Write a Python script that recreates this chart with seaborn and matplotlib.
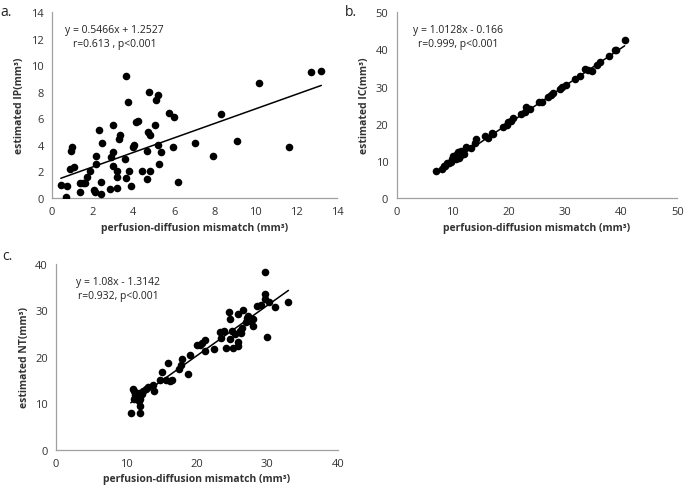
import numpy as np
import pandas as pd
import matplotlib
matplotlib.use("Agg")
import matplotlib.pyplot as plt
import seaborn as sns

# Panel a: perfusion-diffusion mismatch vs estimated IP
ip_x = [0.43, 0.67, 0.71, 0.87, 0.92, 0.99, 1.07, 1.36, 1.36, 1.53, 1.60, 1.74, 1.86,
        2.05, 2.10, 2.18, 2.18, 2.32, 2.38, 2.38, 2.46, 2.87, 2.92, 2.97, 3.00, 3.00,
        3.17, 3.17, 3.17, 3.30, 3.33, 3.60, 3.65, 3.63, 3.74, 3.78, 3.90, 3.96, 4.04,
        4.12, 4.24, 4.40, 4.65, 4.65, 4.73, 4.78, 4.81, 4.81, 5.06, 5.10, 5.19, 5.22,
        5.25, 5.35, 5.76, 6.00, 5.96, 6.20, 7.00, 7.93, 8.29, 9.11, 10.15, 11.66,
        12.74, 13.23]
ip_y = [1.00, 0.10, 0.90, 2.20, 3.57, 3.82, 2.30, 1.10, 0.43, 1.10, 1.10, 1.60, 2.06,
        0.60, 0.43, 3.19, 2.60, 5.13, 1.18, 0.30, 4.12, 0.68, 3.07, 5.50, 3.44, 2.44,
        2.00, 1.60, 0.75, 4.45, 4.75, 2.94, 9.22, 1.48, 7.26, 2.00, 0.93, 3.82, 4.00,
        5.70, 5.83, 2.00, 3.52, 1.43, 4.95, 7.96, 4.75, 2.00, 5.50, 7.39, 7.79, 4.02,
        2.60, 3.49, 6.40, 6.08, 3.87, 1.23, 4.12, 3.19, 6.30, 4.32, 8.64, 3.87,
        9.47, 9.60]

# Panel b: perfusion-diffusion mismatch vs estimated IC
ic_x = [6.94, 8.0, 8.4, 8.7, 8.9, 9.3, 9.6, 9.8, 10.1, 10.3, 10.5, 10.7, 10.97, 11.1,
        11.3, 11.45, 11.7, 12.0, 12.3, 13.3, 13.9, 14.2, 15.7, 16.3, 16.9, 17.2,
        18.98, 19.6, 19.9, 20.3, 20.76, 22.2, 22.8, 23.1, 23.7, 25.4, 25.8, 27.0,
        27.4, 27.9, 29.1, 29.5, 30.1, 31.7, 32.7, 33.5, 34.1, 34.7, 35.6, 36.2,
        37.8, 38.8, 39.1, 40.6]
ic_y = [7.18, 7.8, 8.7, 8.6, 9.3, 9.4, 9.8, 10.5, 11.4, 10.7, 10.4, 11.8, 12.3, 10.9,
        11.4, 12.7, 12.3, 11.8, 13.6, 13.4, 14.8, 15.9, 16.8, 16.1, 17.4, 17.2,
        19.2, 19.7, 20.4, 20.8, 21.5, 22.6, 23.1, 24.4, 24.0, 25.8, 25.9, 27.2,
        27.6, 28.2, 29.4, 29.8, 30.4, 32.0, 32.9, 34.7, 34.5, 34.3, 35.8, 36.5,
        38.2, 39.7, 39.9, 42.6]

# Panel c: perfusion-diffusion mismatch vs estimated NT
nt_x = [10.6, 10.85, 11.0, 11.2, 11.1, 11.5, 11.7, 11.7, 11.85, 11.85, 11.9, 12.2,
        12.4, 12.8, 13.1, 13.7, 13.9, 14.7, 15.0, 15.6, 15.9, 16.2, 16.4, 17.5, 17.8,
        17.9, 18.7, 18.96, 20.0, 20.4, 20.7, 21.1, 21.2, 22.4, 23.3, 23.4, 23.9, 24.2,
        24.5, 24.7, 24.7, 25.0, 25.1, 25.4, 25.8, 25.8, 25.9, 26.1, 26.2, 26.4, 26.5,
        26.9, 27.1, 27.3, 27.6, 27.9, 27.96, 28.5, 29.1, 29.6, 29.7, 29.7, 29.95,
        30.3, 31.1, 33.0]
nt_y = [7.97, 13.2, 12.7, 11.8, 10.9, 11.6, 12.2, 10.5, 9.5, 8.0, 11.05, 12.1,
        12.7, 13.1, 13.6, 14.0, 12.6, 15.1, 16.7, 15.1, 18.6, 14.9, 15.1, 17.4, 18.3,
        19.5, 16.3, 20.4, 22.5, 22.5, 22.9, 23.6, 21.3, 21.7, 25.4, 24.0, 25.6, 22.0,
        29.7, 28.1, 23.8, 25.6, 22.0, 24.9, 29.2, 23.3, 22.4, 25.6, 25.1, 26.3, 30.1,
        27.6, 28.3, 28.9, 27.8, 28.1, 26.6, 31.0, 31.2, 33.5, 38.3, 32.5, 24.4,
        31.9, 30.7, 31.9]

panels = [
    ("a.", ip_x, ip_y, 0.5466, 1.2527, "y = 0.5466x + 1.2527", "r=0.613 , p<0.001",
     "estimated IP(mm³)", 14, 2, 14, 2),
    ("b.", ic_x, ic_y, 1.0128, -0.166, "y = 1.0128x - 0.166", "r=0.999, p<0.001",
     "estimated IC(mm³)", 50, 10, 50, 10),
    ("c.", nt_x, nt_y, 1.08, -1.3142, "y = 1.08x - 1.3142", "r=0.932, p<0.001",
     "estimated NT(mm³)", 40, 10, 40, 10),
]

# axes rectangles in figure fraction (left, bottom, width, height)
rects = [
    (0.076, 0.593, 0.416, 0.380),
    (0.579, 0.593, 0.410, 0.380),
    (0.082, 0.078, 0.411, 0.380),
]
label_pos = [(0.0, 0.975), (0.503, 0.975), (0.003, 0.475)]

sns.set_style("white")
plt.rcParams['font.family'] = ['Open Sans', 'DejaVu Sans']

fig = plt.figure(figsize=(6.85, 4.89), dpi=100)

for (tag, xs, ys, slope, icpt, eq, stat, ylab, xmax, xstep, ymax, ystep), rect, lp in zip(panels, rects, label_pos):
    ax = fig.add_axes(rect)
    df = pd.DataFrame({"x": xs, "y": ys})
    sns.scatterplot(data=df, x="x", y="y", ax=ax, color="black", s=30,
                    edgecolor="black", linewidth=0, zorder=3)
    lx = np.array([min(xs), max(xs)])
    ax.plot(lx, slope * lx + icpt, color="black", lw=1.1, zorder=2)

    ax.set_xlim(0, xmax)
    ax.set_ylim(0, ymax)
    ax.set_xticks(np.arange(0, xmax + 0.1, xstep))
    ax.set_yticks(np.arange(0, ymax + 0.1, ystep))
    sns.despine(ax=ax)
    for side in ["left", "bottom"]:
        ax.spines[side].set_color("#a0a0a0")
        ax.spines[side].set_linewidth(0.9)
    ax.tick_params(axis="both", which="both", direction="out", length=3,
                   color="#a0a0a0", labelsize=8, labelcolor="#333333", width=0.9, pad=3)
    ax.set_xlabel("perfusion-diffusion mismatch (mm³)", fontsize=7.5,
                  fontweight="bold", color="#333333", labelpad=3)
    ax.set_ylabel(ylab, fontsize=7.5, fontweight="bold", color="#333333", labelpad=4)

    ax.text(0.22, 0.905, eq, transform=ax.transAxes, ha="center", va="center",
            fontsize=7.5, color="#222222")
    ax.text(0.22, 0.83, stat, transform=ax.transAxes, ha="center", va="center",
            fontsize=7.5, color="#222222")
    fig.text(lp[0], lp[1], tag, fontsize=10, ha="left", va="center", color="#222222")

fig.savefig("out.png", dpi=100)
